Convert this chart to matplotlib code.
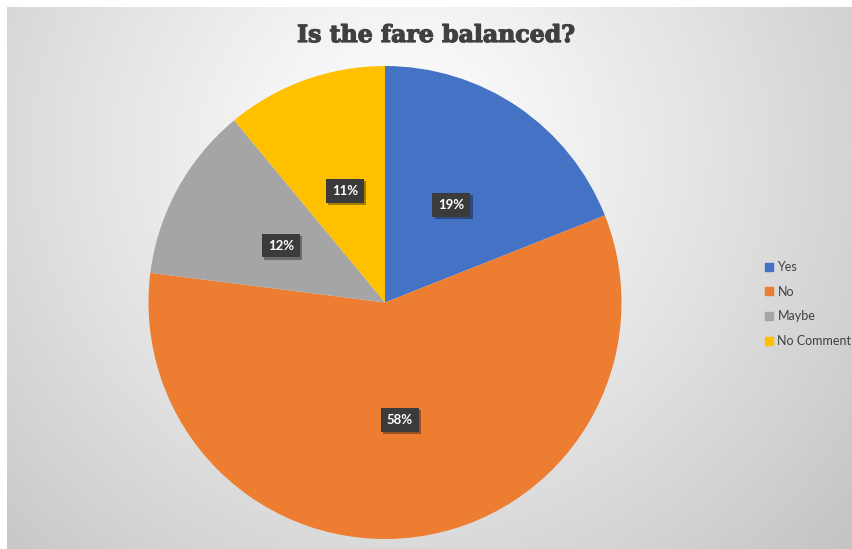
import numpy as np
import matplotlib.pyplot as plt
import matplotlib.patheffects as pe
from matplotlib.lines import Line2D

# survey answers
categories = ["Yes", "No", "Maybe", "No Comment"]
shares = [19, 58, 12, 11]
colors = ["#4472C4", "#ED7D31", "#A5A5A5", "#FFC000"]
title = "Is the fare balanced?"

W, H = 853, 549
fig = plt.figure(figsize=(W / 100, H / 100), dpi=100, facecolor="white")

# radial grey background of the chart area
bg = fig.add_axes([7 / W, 0, (W - 7) / W, (H - 7) / H])
bg.set_axis_off()
yy, xx = np.mgrid[7:H, 7:W]
d = np.hypot(xx - 400, yy - 150)
shade = np.clip(255 - 62 * (d / 620) ** 1.15, 190, 255) / 255
bg.imshow(np.dstack([shade] * 3), aspect="auto", extent=(0, 1, 0, 1))

# pie
cx, cy, r = 385, 302.5, 236.5
ax = fig.add_axes([(cx - r) / W, (H - cy - r) / H, 2 * r / W, 2 * r / H])
wedges, texts, autotexts = ax.pie(
    shares, colors=colors, startangle=90, counterclock=False,
    autopct=lambda p: f"{p:.0f}%", pctdistance=0.5,
    wedgeprops=dict(linewidth=0),
    textprops=dict(color="white", fontsize=9.5, fontweight="bold", family="Lato"),
)
ax.set_xlim(-1, 1)
ax.set_ylim(-1, 1)
ax.set_aspect("auto")

for t in autotexts:
    t.set_bbox(dict(boxstyle="square,pad=0.45", facecolor="#3b3b3b", edgecolor="none"))
    t.get_bbox_patch().set_path_effects([
        pe.SimplePatchShadow(offset=(1.5, -1.5), shadow_rgbFace="black", alpha=0.35),
        pe.Normal(),
    ])

fig.text(436 / W, 1 - 35 / H, title, ha="center", va="center",
         fontsize=17, fontweight="bold", family="DejaVu Serif", color="#404040",
         path_effects=[pe.withStroke(linewidth=0.9, foreground="#404040")])

handles = [Line2D([], [], marker="s", linestyle="none", markersize=5.5,
                  markerfacecolor=c, markeredgecolor=c) for c in colors]
fig.legend(handles, categories, loc="upper left",
           bbox_to_anchor=(765 / W, 1 - 261 / H), frameon=False,
           prop=dict(family="Lato", size=9), labelcolor="#404040",
           handlelength=0.7, handletextpad=0.3, labelspacing=1.02,
           borderpad=0, borderaxespad=0)

fig.savefig("out.png", dpi=100, facecolor="white")
